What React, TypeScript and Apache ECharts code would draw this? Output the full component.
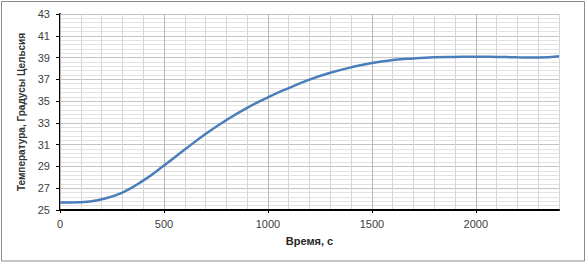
import React, { useEffect, useRef } from "react";
import * as echarts from "echarts";

const times = [0, 100, 200, 300, 400, 500, 600, 700, 800, 900, 1000, 1100, 1200, 1300, 1400, 1500, 1600, 1700, 1800, 1900, 2000, 2100, 2200, 2300, 2400];
const temps = [25.7, 25.72, 25.98, 26.6, 27.7, 29.08, 30.55, 31.98, 33.25, 34.38, 35.35, 36.2, 36.98, 37.6, 38.1, 38.5, 38.77, 38.92, 39.02, 39.06, 39.08, 39.06, 39.02, 39.0, 39.12];
const xTickLabels = [0, 500, 1000, 1500, 2000];
const yTickLabels = [25, 27, 29, 31, 33, 35, 37, 39, 41, 43];

const xTitle = "Время, с";
const yTitle = "Температура, Градусы Цельсия";

export default function App() {
  const ref = useRef<HTMLDivElement>(null);
  useEffect(() => {
    if (!ref.current) return;
    const chart = echarts.init(ref.current, undefined, { renderer: "svg" });
    const font = "Liberation Sans";
    chart.setOption({
      animation: false,
      backgroundColor: "#ffffff",
      graphic: [
        {
          type: "rect",
          shape: { x: 1.5, y: 1.5, width: 583, height: 259.5 },
          style: { fill: "none", stroke: "#8c8c8c", lineWidth: 1 },
          silent: true,
        },
      ],
      grid: { left: 60, top: 14, right: 27, bottom: 53, containLabel: false },
      xAxis: [
        {
          type: "value",
          position: "top",
          min: 0,
          max: 2400,
          interval: 100,
          z: 0,
          axisLine: { show: false },
          axisTick: { show: false },
          axisLabel: { show: false },
          splitLine: { show: true, lineStyle: { color: "#d6d6d6", width: 1 } },
        },
        {
          type: "value",
          position: "bottom",
          min: 0,
          max: 2400,
          interval: 500,
          z: 1,
          name: xTitle,
          nameLocation: "middle",
          nameGap: 25,
          nameTextStyle: { fontFamily: font, fontSize: 11, fontWeight: "bold", color: "#262626" },
          axisLine: { show: true, onZero: false, lineStyle: { color: "#000000", width: 2 } },
          axisTick: { show: true, length: 3, customValues: xTickLabels, lineStyle: { color: "#000000", width: 1 } },
          axisLabel: {
            customValues: xTickLabels,
            formatter: (v: number) => String(v),
            margin: 8,
            fontFamily: font,
            fontSize: 11,
            color: "#404040",
          },
          splitLine: { show: true, lineStyle: { color: "#b8b8b8", width: 1 } },
        },
      ],
      yAxis: [
        {
          type: "value",
          min: 25,
          max: 43,
          interval: 2,
          name: yTitle,
          nameLocation: "middle",
          nameGap: 29,
          nameTextStyle: { fontFamily: font, fontSize: 10, fontWeight: "bold", color: "#333333" },
          axisLine: { show: true, onZero: false, lineStyle: { color: "#000000", width: 2 } },
          axisTick: { show: true, length: 4, lineStyle: { color: "#000000", width: 1 } },
          axisLabel: {
            customValues: yTickLabels,
            formatter: (v: number) => String(v),
            margin: 10,
            fontFamily: font,
            fontSize: 11,
            color: "#404040",
          },
          splitLine: { show: true, lineStyle: { color: "#c4c4c4", width: 1 } },
          minorTick: { show: false, splitNumber: 5 },
          minorSplitLine: { show: true, lineStyle: { color: "#e3e3e3", width: 1 } },
        },
      ],
      series: [
        {
          type: "line",
          xAxisIndex: 1,
          yAxisIndex: 0,
          data: times.map((t, i) => [t, temps[i]]),
          smooth: true,
          showSymbol: false,
          symbol: "none",
          lineStyle: { color: "#4a7ebb", width: 2.5 },
          z: 3,
        },
      ],
    });
    return () => chart.dispose();
  }, []);
  return (
    <div
      ref={ref}
      style={{ position: "fixed", left: 0, top: 0, width: 586, height: 263 }}
    />
  );
}
